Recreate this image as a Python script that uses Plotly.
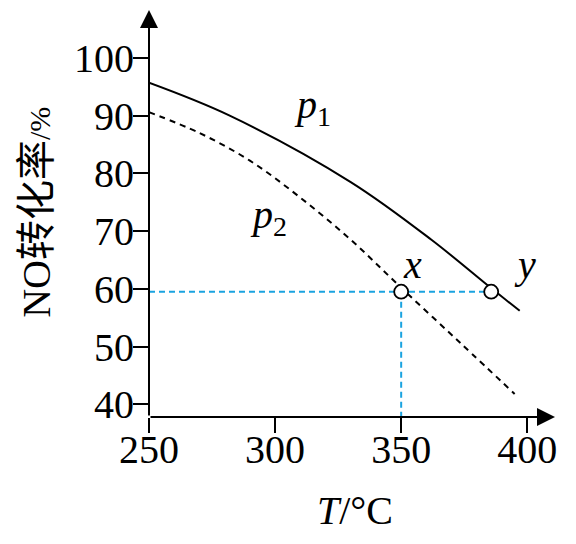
import plotly.graph_objects as go

# Data
p1_T = [250, 282, 330, 362, 386, 397]
p1_v = [95.7, 90.0, 78.5, 68.5, 60.0, 56.2]
p2_T = [250, 270, 290, 310, 330, 350, 374, 395]
p2_v = [90.6, 87.0, 82.2, 75.8, 68.5, 60.2, 50.4, 41.8]
pt_T = [350, 385.7]
pt_v = [59.5, 59.5]
x_ticks = [250, 300, 350, 400]
y_ticks = [40, 50, 60, 70, 80, 90, 100]

X0, X1 = 250, 411
Y0, Y1 = 37.8, 108.3
SERIF = "Liberation Serif, Times New Roman, serif"
BLUE = "#1aa3e0"
FS = 40

fig = go.Figure()
fig.add_trace(go.Scatter(x=[X0, pt_T[1]], y=[pt_v[0], pt_v[1]], mode="lines",
                         line=dict(color=BLUE, width=2, dash="6px,4px"), hoverinfo="skip"))
fig.add_trace(go.Scatter(x=[pt_T[0], pt_T[0]], y=[pt_v[0], Y0], mode="lines",
                         line=dict(color=BLUE, width=2, dash="6px,4px"), hoverinfo="skip"))
fig.add_trace(go.Scatter(x=p1_T, y=p1_v, mode="lines", line=dict(color="black", width=2, shape="spline")))
fig.add_trace(go.Scatter(x=p2_T, y=p2_v, mode="lines",
                         line=dict(color="black", width=2, shape="spline", dash="6px,5px")))
fig.add_trace(go.Scatter(x=pt_T, y=pt_v, mode="markers",
                         marker=dict(symbol="circle", size=14, color="white",
                                     line=dict(color="black", width=1.8)), cliponaxis=False))

axis_common = dict(showgrid=False, zeroline=False, showline=False, ticks="outside",
                   ticklen=15, tickwidth=2, tickcolor="black", automargin=False,
                   tickfont=dict(family=SERIF, size=FS, color="black"))
fig.update_xaxes(range=[X0, X1], tickvals=x_ticks, ticklabelstandoff=-18, **axis_common)
fig.update_yaxes(range=[Y0, Y1], tickvals=y_ticks, ticklabelstandoff=-9, **axis_common)

anns = []
anns.append(dict(x=X1, y=Y0, ax=X0, ay=Y0, xref="x", yref="y", axref="x", ayref="y",
                 showarrow=True, arrowhead=2, arrowsize=1.8, arrowwidth=2, arrowcolor="black", text=""))
anns.append(dict(x=X0, y=Y1, ax=X0, ay=Y0, xref="x", yref="y", axref="x", ayref="y",
                 showarrow=True, arrowhead=2, arrowsize=1.8, arrowwidth=2, arrowcolor="black", text=""))
anns.append(dict(x=354.4, y=64.2, xref="x", yref="y", text="<i>x</i>", showarrow=False,
                 font=dict(family=SERIF, size=FS, color="black")))
anns.append(dict(x=399.2, y=64.2, xref="x", yref="y", text="<i>y</i>", showarrow=False,
                 font=dict(family=SERIF, size=FS, color="black")))
anns.append(dict(x=314.7, y=91.5, xref="x", yref="y", text="<i>p</i><sub>1</sub>", showarrow=False,
                 font=dict(family=SERIF, size=FS, color="black")))
anns.append(dict(x=297.2, y=72.5, xref="x", yref="y", text="<i>p</i><sub>2</sub>", showarrow=False,
                 font=dict(family=SERIF, size=FS, color="black")))
anns.append(dict(x=-0.276, y=0.504, xref="paper", yref="paper", textangle=-90, showarrow=False,
                 xanchor="center", yanchor="middle",
                 text="NO转化率<span style='font-size:30px'>/%</span>",
                 font=dict(family=SERIF + ", Noto Sans CJK SC", size=FS, color="black")))
anns.append(dict(x=0.507, y=-0.229, xref="paper", yref="paper", showarrow=False,
                 xanchor="center", yanchor="middle",
                 text="<i>T</i>/°C", font=dict(family=SERIF, size=FS, color="black")))

# page body has an 8px margin; figure offset compensates
fig.update_layout(width=560, height=528, margin=dict(l=141, r=13, t=2, b=119, autoexpand=False),
                  paper_bgcolor="white", plot_bgcolor="white", showlegend=False,
                  annotations=anns)
fig.write_html("out.html")
